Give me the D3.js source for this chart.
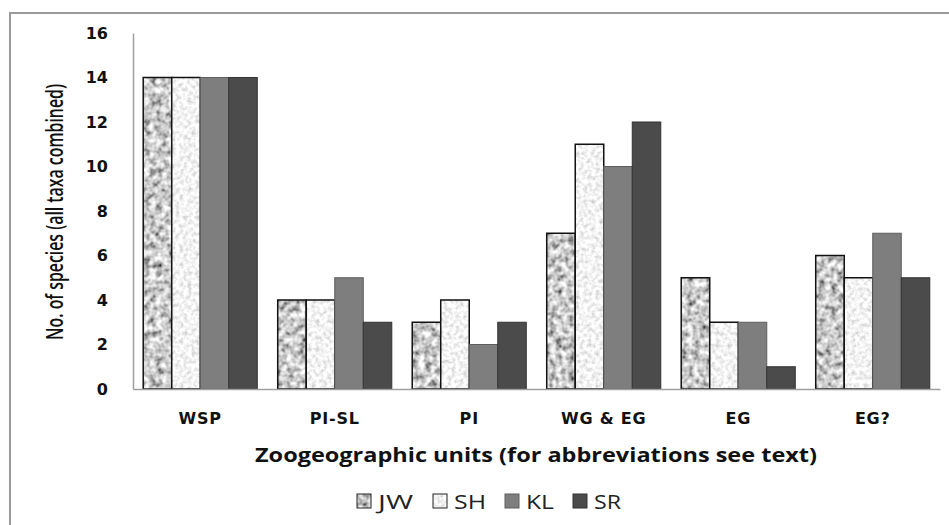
<!DOCTYPE html>
<html><head><meta charset="utf-8">
<script src="https://cdn.jsdelivr.net/npm/d3@7/dist/d3.min.js"></script>
<style>body{margin:0;background:#fff}svg{display:block}</style>
</head><body>
<svg id="c" width="949" height="525"></svg>
<script>
const categories = ["WSP", "PI-SL", "PI", "WG & EG", "EG", "EG?"];
const seriesNames = ["JW", "SH", "KL", "SR"];
const JW = [14, 4, 3, 7, 5, 6];
const SH = [14, 4, 4, 11, 3, 5];
const KL = [14, 5, 2, 10, 3, 7];
const SR = [14, 3, 3, 12, 1, 5];
const yTicks = [0, 2, 4, 6, 8, 10, 12, 14, 16];
const yTitle = "No. of species (all taxa combined)";
const xTitle = "Zoogeographic units (for abbreviations see text)";

const values = {JW, SH, KL, SR};
const svg = d3.select("#c");
const defs = svg.append("defs");

function texture(id, a, b, freq, seed, oct) {
  const f = defs.append("filter").attr("id", "f" + id)
    .attr("x", 0).attr("y", 0).attr("width", 949).attr("height", 525)
    .attr("filterUnits", "userSpaceOnUse");
  f.append("feTurbulence").attr("type", "fractalNoise").attr("baseFrequency", freq)
    .attr("numOctaves", oct).attr("seed", seed);
  const row = `${a} 0 0 0 ${b}`;
  f.append("feColorMatrix").attr("type", "matrix")
    .attr("values", `${row} ${row} ${row} 0 0 0 0 1`);
  const p = defs.append("pattern").attr("id", id).attr("patternUnits", "userSpaceOnUse")
    .attr("width", 949).attr("height", 525);
  p.append("rect").attr("width", 949).attr("height", 525).attr("filter", `url(#f${id})`);
}
texture("pJW", 1.6, -0.2, 0.16, 4, 2);
texture("pSH", 0.8, 0.5, 0.25, 9, 2);

const style = {
  JW: {fill: "url(#pJW)", stroke: "#111", sw: 1.5},
  SH: {fill: "url(#pSH)", stroke: "#111", sw: 1.5},
  KL: {fill: "#7e7e7e", stroke: "#5e5e5e", sw: 1},
  SR: {fill: "#4b4b4b", stroke: "#333", sw: 1}
};

// outer border
svg.append("rect").attr("x", 10).attr("y", 13).attr("width", 960).attr("height", 540)
  .attr("fill", "none").attr("stroke", "#9a9a9a").attr("stroke-width", 2);

const pLeft = 133, pRight = 940, pTop = 33, pBottom = 389;
const x = d3.scaleBand().domain(categories).range([pLeft, pRight]).paddingInner(0.152).paddingOuter(0.076);
const xs = d3.scaleBand().domain(seriesNames).range([0, x.bandwidth()]);
const y = d3.scaleLinear().domain([0, 16]).range([pBottom, pTop]);

const g = svg.append("g");
categories.forEach((c, i) => {
  seriesNames.forEach(s => {
    const v = values[s][i];
    const st = style[s];
    g.append("rect")
      .attr("x", x(c) + xs(s)).attr("y", y(v))
      .attr("width", xs.bandwidth()).attr("height", y(0) - y(v))
      .attr("fill", st.fill).attr("stroke", st.stroke).attr("stroke-width", st.sw);
  });
});

// axes
const yAxis = svg.append("g").attr("transform", `translate(${pLeft},0)`)
  .call(d3.axisLeft(y).tickValues(yTicks).tickSize(0).tickPadding(25));
yAxis.select(".domain").attr("stroke", "#a0a0a0").attr("stroke-width", 1.5);
yAxis.selectAll("text").attr("font-family", "DejaVu Sans").attr("font-weight", "bold")
  .attr("font-size", 16).attr("fill", "#111");

const xAxis = svg.append("g").attr("transform", `translate(0,${pBottom})`)
  .call(d3.axisBottom(x).tickSize(0).tickPadding(24));
xAxis.select(".domain").attr("stroke", "#a0a0a0").attr("stroke-width", 1.5);
xAxis.selectAll("text").attr("font-family", "DejaVu Sans").attr("font-weight", "bold")
  .attr("font-size", 16).attr("letter-spacing", 0.8).attr("fill", "#111");

// titles
const yt = svg.append("text")
  .attr("text-anchor", "middle").attr("font-family", "Open Sans").attr("font-weight", 600)
  .attr("font-size", 24).attr("fill", "#111").text(yTitle);
const ytLen = yt.node().getComputedTextLength();
yt.attr("transform", `translate(63,212) rotate(-90) scale(${256 / ytLen},1)`);

svg.append("text").attr("x", 536).attr("y", 462)
  .attr("text-anchor", "middle").attr("font-family", "Open Sans").attr("font-weight", "bold")
  .attr("font-size", 19).attr("textLength", 562).attr("lengthAdjust", "spacingAndGlyphs")
  .attr("fill", "#111").text(xTitle);

// legend
const legX = {JW: 357, SH: 433, KL: 505, SR: 573};
const legW = {JW: 35, SH: 32, KL: 28, SR: 27};
seriesNames.forEach(s => {
  const st = style[s];
  svg.append("rect").attr("x", legX[s]).attr("y", 494).attr("width", 14).attr("height", 14)
    .attr("fill", st.fill).attr("stroke", s === "KL" || s === "SR" ? st.stroke : "#222").attr("stroke-width", 1);
  svg.append("text").attr("x", legX[s] + 21).attr("y", 509)
    .attr("font-family", "Open Sans").attr("font-size", 20)
    .attr("textLength", legW[s]).attr("lengthAdjust", "spacingAndGlyphs")
    .attr("fill", "#222").text(s);
});
</script>
</body></html>
